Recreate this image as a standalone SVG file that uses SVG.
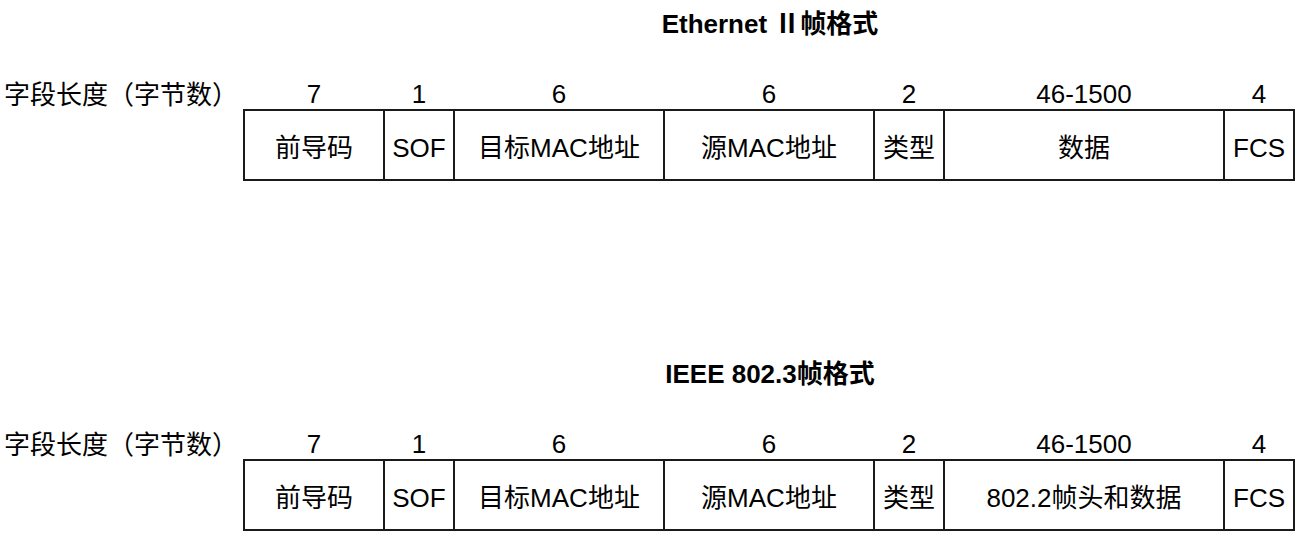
<svg xmlns="http://www.w3.org/2000/svg" width="1304" height="541" viewBox="0 0 1304 541">
  <style>
    text { font-family: "Liberation Sans", Arial, "Noto Sans CJK SC", sans-serif; font-size: 26px; fill: #000; }
    .title { font-size: 26px; font-weight: bold; text-anchor: middle; }
    .cjk { font-family: "Noto Sans CJK SC", sans-serif; }
    .num { text-anchor: middle; }
    .cell-label { text-anchor: middle; }
    .cell { fill: #fff; stroke: #1a1a1a; stroke-width: 2; }
  </style>
  <rect width="1304" height="541" fill="#fff"/>

  <!-- Ethernet II frame -->
  <g id="ethernet2">
    <text class="title" x="770" y="33">Ethernet <tspan class="cjk">Ⅱ</tspan>帧格式</text>
    <text x="4" y="104">字段长度（字节数）</text>
    <g id="e2-lengths">
      <text class="num" x="314" y="103">7</text>
      <text class="num" x="419" y="103">1</text>
      <text class="num" x="559" y="103">6</text>
      <text class="num" x="769" y="103">6</text>
      <text class="num" x="909" y="103">2</text>
      <text class="num" x="1084" y="103">46-1500</text>
      <text class="num" x="1259" y="103">4</text>
    </g>
    <g id="e2-preamble"><rect class="cell" x="244" y="110" width="140" height="70"/><text class="cell-label" x="314" y="157">前导码</text></g>
    <g id="e2-sof"><rect class="cell" x="384" y="110" width="70" height="70"/><text class="cell-label" x="419" y="157">SOF</text></g>
    <g id="e2-dst"><rect class="cell" x="454" y="110" width="210" height="70"/><text class="cell-label" x="559" y="157">目标MAC地址</text></g>
    <g id="e2-src"><rect class="cell" x="664" y="110" width="210" height="70"/><text class="cell-label" x="769" y="157">源MAC地址</text></g>
    <g id="e2-type"><rect class="cell" x="874" y="110" width="70" height="70"/><text class="cell-label" x="909" y="157">类型</text></g>
    <g id="e2-data"><rect class="cell" x="944" y="110" width="280" height="70"/><text class="cell-label" x="1084" y="157">数据</text></g>
    <g id="e2-fcs"><rect class="cell" x="1224" y="110" width="70" height="70"/><text class="cell-label" x="1259" y="157">FCS</text></g>
  </g>

  <!-- IEEE 802.3 frame -->
  <g id="ieee8023">
    <text class="title" x="770" y="383">IEEE 802.3帧格式</text>
    <text x="4" y="454">字段长度（字节数）</text>
    <g id="i3-lengths">
      <text class="num" x="314" y="453">7</text>
      <text class="num" x="419" y="453">1</text>
      <text class="num" x="559" y="453">6</text>
      <text class="num" x="769" y="453">6</text>
      <text class="num" x="909" y="453">2</text>
      <text class="num" x="1084" y="453">46-1500</text>
      <text class="num" x="1259" y="453">4</text>
    </g>
    <g id="i3-preamble"><rect class="cell" x="244" y="460" width="140" height="70"/><text class="cell-label" x="314" y="507">前导码</text></g>
    <g id="i3-sof"><rect class="cell" x="384" y="460" width="70" height="70"/><text class="cell-label" x="419" y="507">SOF</text></g>
    <g id="i3-dst"><rect class="cell" x="454" y="460" width="210" height="70"/><text class="cell-label" x="559" y="507">目标MAC地址</text></g>
    <g id="i3-src"><rect class="cell" x="664" y="460" width="210" height="70"/><text class="cell-label" x="769" y="507">源MAC地址</text></g>
    <g id="i3-type"><rect class="cell" x="874" y="460" width="70" height="70"/><text class="cell-label" x="909" y="507">类型</text></g>
    <g id="i3-data"><rect class="cell" x="944" y="460" width="280" height="70"/><text class="cell-label" x="1084" y="507">802.2帧头和数据</text></g>
    <g id="i3-fcs"><rect class="cell" x="1224" y="460" width="70" height="70"/><text class="cell-label" x="1259" y="507">FCS</text></g>
  </g>

  <g id="connectors"/>
</svg>
